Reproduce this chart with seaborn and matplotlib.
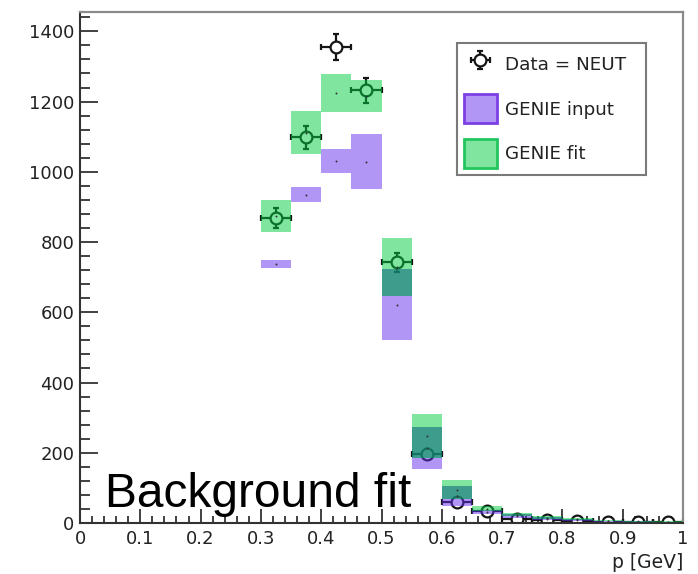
import numpy as np
import pandas as pd
import matplotlib
matplotlib.use("Agg")
import matplotlib.pyplot as plt
from matplotlib.patches import Patch
from matplotlib.ticker import MultipleLocator, FixedLocator
import seaborn as sns

# ---------------- data ----------------
bin_low = [0.30, 0.35, 0.40, 0.45, 0.50, 0.55, 0.60, 0.65, 0.70, 0.75, 0.80, 0.85, 0.90, 0.95]
bin_width = 0.05

data_vals = [868, 1098, 1355, 1232, 743, 196, 60, 34, 11, 8, 6, 3, 3, 2]
data_err = [29, 33, 37, 35, 27, 14, 8, 6, 3, 3, 2, 2, 2, 1]

input_center = [738, 935, 1031, 1029, 622, 213, 77, 32, 20, 12, 8, 5, 4, 3]
input_half = [12, 21, 35, 78, 101, 60, 28, 6, 5, 4, 3, 2, 2, 1]

fit_center = [874, 1111, 1224, 1215, 728, 247, 95, 41, 24, 15, 11, 7, 5, 4]
fit_half = [45, 61, 54, 45, 83, 62, 27, 7, 5, 4, 3, 2, 2, 1]

xtick_vals = [0, 0.1, 0.2, 0.3, 0.4, 0.5, 0.6, 0.7, 0.8, 0.9, 1.0]
xtick_labels = ["0", "0.1", "0.2", "0.3", "0.4", "0.5", "0.6", "0.7", "0.8", "0.9", "1"]
ytick_vals = [0, 200, 400, 600, 800, 1000, 1200, 1400]

legend_labels = ["Data = NEUT", "GENIE input", "GENIE fit"]
x_label = "p [GeV]"
overlay_text = "Background fit"

# ---------------- style ----------------
sns.set_style("ticks")
plt.rcParams["font.family"] = ["DejaVu Sans"]

W, H = 698, 574
fig = plt.figure(figsize=(W / 100, H / 100), dpi=100)
ax = fig.add_axes([80 / W, 1 - 523 / H, (683 - 80) / W, (523 - 12) / H])

df = pd.DataFrame({
    "x": np.array(bin_low) + bin_width / 2,
    "data": data_vals, "derr": data_err,
    "in_c": input_center, "in_h": input_half,
    "fit_c": fit_center, "fit_h": fit_half,
})

ALPHA = 0.5
purple = (100 / 255, 46 / 255, 237 / 255)
green = (0 / 255, 205 / 255, 65 / 255)

# data points (drawn first, boxes overlay them like in the original)
eb = ax.errorbar(df["x"], df["data"], xerr=bin_width / 2, yerr=df["derr"],
                 fmt="o", ms=8.5, mfc="white", mec="#151515", mew=1.6,
                 ecolor="#151515", elinewidth=1.6, capsize=2.5, capthick=1.6,
                 zorder=2)

# GENIE input boxes
ax.bar(df["x"], 2 * df["in_h"], bottom=df["in_c"] - df["in_h"], width=bin_width,
       color=purple, alpha=ALPHA, linewidth=0, zorder=3)
# GENIE fit boxes
ax.bar(df["x"], 2 * df["fit_h"], bottom=df["fit_c"] - df["fit_h"], width=bin_width,
       color=green, alpha=ALPHA, linewidth=0, zorder=4)

# darken the region where both bands overlap
ov_lo = np.maximum(df["in_c"] - df["in_h"], df["fit_c"] - df["fit_h"])
ov_hi = np.minimum(df["in_c"] + df["in_h"], df["fit_c"] + df["fit_h"])
ov_h = np.clip(ov_hi - ov_lo, 0, None)
ax.bar(df["x"], ov_h, bottom=ov_lo, width=bin_width,
       color=(0 / 255, 110 / 255, 105 / 255), alpha=0.3, linewidth=0, zorder=5)

# small centre dots of the bands
dots = pd.DataFrame({"x": np.concatenate([df["x"], df["x"]]),
                     "y": np.concatenate([df["in_c"], df["fit_c"]])})
sns.scatterplot(data=dots, x="x", y="y", s=2, color="#333333", linewidth=0,
                ax=ax, zorder=6, legend=False)

# ---------------- axes ----------------
ax.set_xlim(0, 1)
ax.set_ylim(0, 1455)
ax.xaxis.set_major_locator(FixedLocator(xtick_vals))
ax.set_xticklabels(xtick_labels)
ax.yaxis.set_major_locator(FixedLocator(ytick_vals))
ax.xaxis.set_minor_locator(MultipleLocator(0.02))
ax.yaxis.set_minor_locator(MultipleLocator(40))
ax.set_xlabel("")
ax.set_ylabel("")

ax.tick_params(which="both", direction="in", top=False, right=False,
               colors="#333333", labelcolor="#222222", labelsize=13, width=1.3)
ax.tick_params(axis="x", which="major", length=10, pad=5)
ax.tick_params(axis="x", which="minor", length=5)
ax.tick_params(axis="y", which="major", length=13, pad=4)
ax.tick_params(axis="y", which="minor", length=7)

for s in ["left", "bottom"]:
    ax.spines[s].set_color("#333333")
    ax.spines[s].set_linewidth(1.5)
for s in ["top", "right"]:
    ax.spines[s].set_color("#8a8a8a")
    ax.spines[s].set_linewidth(1.6)

fig.text(683 / W, 1 - 568 / H, x_label, ha="right", va="baseline",
         fontsize=13.5, color="#222222")

# ---------------- legend ----------------
h_in = Patch(facecolor=purple + (ALPHA,), edgecolor="#7b3fe4", linewidth=2)
h_fit = Patch(facecolor=green + (ALPHA,), edgecolor="#22c55e", linewidth=2)
leg = ax.legend([eb, h_in, h_fit], legend_labels,
                loc="upper left", mode="expand",
                bbox_to_anchor=(457 / W, 1 - 201 / H, 189 / W, 158 / H),
                bbox_transform=fig.transFigure, borderaxespad=0,
                fontsize=13.2, handlelength=1.8, handleheight=2.05,
                handletextpad=0.45, labelspacing=0.85, borderpad=0.38,
                fancybox=False, framealpha=1, edgecolor="#7a7a7a")
leg.get_frame().set_linewidth(1.5)
for t in leg.get_texts():
    t.set_color("#222222")

# overlay caption
fig.text(105 / W, 1 - 507 / H, overlay_text, ha="left", va="baseline",
         fontsize=34.5, family=["Liberation Sans", "DejaVu Sans"], color="black",
         zorder=10)

fig.savefig("out.png", dpi=100)
